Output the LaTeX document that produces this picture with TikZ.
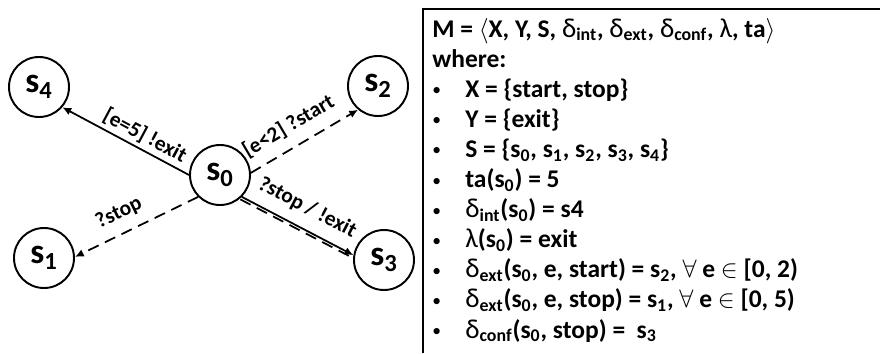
\documentclass[tikz,border=0pt]{standalone}
\usepackage{fontspec}
\setmainfont{Carlito}
\usetikzlibrary{arrows.meta, positioning}
\newcommand{\dlt}{{\mdseries\fontsize{15.5}{17}\selectfont δ}}
\newcommand{\lmb}{{\mdseries\fontsize{15.5}{17}\selectfont λ}}
\tikzset{
  statenode/.style={circle, draw, line width=1.1pt, minimum size=1.2cm, inner sep=0pt, font=\bfseries\fontsize{20}{22}\selectfont},
  evarrow/.style={-{Latex[length=5pt, width=4.5pt]}, line width=1pt},
  evdashed/.style={evarrow, dash pattern=on 6.5pt off 4pt},
  evlabel/.style={sloped, above=#1, font=\bfseries\fontsize{12.2}{13}\selectfont, inner sep=1pt},
  evlabel/.default=3pt,
  deftext/.style={anchor=base west, inner sep=0pt, font=\bfseries\fontsize{14.5}{17}\selectfont},
  bulnode/.style={anchor=base west, inner sep=0pt, font=\mdseries\fontsize{10}{12}\selectfont},
}

\begin{document}
\begin{tikzpicture}
  \useasboundingbox (0,0) rectangle (17.6,7.06);

  % states
  \node[statenode] (s0) at (4.40, 3.56) {s\textsubscript{0}};
  \node[statenode] (s4) at (0.78, 5.32) {s\textsubscript{4}};
  \node[statenode] (s2) at (7.56, 5.34) {s\textsubscript{2}};
  \node[statenode] (s1) at (0.88, 1.90) {s\textsubscript{1}};
  \node[statenode] (s3) at (7.68, 1.86) {s\textsubscript{3}};

  % transitions
  \draw[evarrow] (s0.180) -- node[evlabel=1pt, pos=0.4] {[e=5] !exit} (s4.-41);
  \draw[evdashed] (s0.4) -- node[evlabel=5pt, pos=0.45] {[e<2] ?start} (s2.-130);
  \draw[evdashed] (s0.225) -- node[evlabel=5pt, pos=0.57] {?stop} (s1.2);
  \draw[evarrow] (s0.-45) -- node[evlabel=5pt, pos=0.5] {?stop / !exit} (s3.171);
  \draw[line width=1pt, dash pattern=on 6.5pt off 4pt] ([shift={(-0.03,-0.05)}]s0.-45) -- ([shift={(-0.06,-0.03)}]s3.171);

  % definition panel
  \draw[line width=1.1pt] (17.6,6.88) -| (8.46,0);
  \node[deftext] (mdef) at (8.64,6.32) {M = $\langle$X, Y, S, \dlt\textsubscript{int}, \dlt\textsubscript{ext}, \dlt\textsubscript{conf}, \lmb, ta$\rangle$};
  \node[deftext] (where) at (8.64,5.718) {where:};
  \foreach \yb [count=\i] in {5.116,4.514,3.912,3.31,2.708,2.106,1.504,0.902,0.30}
    \node[bulnode] (bul\i) at (8.64,\yb+0.03) {\textbullet};
  \node[deftext] (xdef) at (9.30,5.116) {X = \{start, stop\}};
  \node[deftext] (ydef) at (9.30,4.514) {Y = \{exit\}};
  \node[deftext] (sdef) at (9.30,3.912) {S = \{s\textsubscript{0}, s\textsubscript{1}, s\textsubscript{2}, s\textsubscript{3}, s\textsubscript{4}\}};
  \node[deftext] (tadef) at (9.30,3.31) {ta(s\textsubscript{0}) = 5};
  \node[deftext] (intdef) at (9.30,2.708) {\dlt\textsubscript{int}(s\textsubscript{0}) = s4};
  \node[deftext] (lmbdef) at (9.30,2.106) {\lmb(s\textsubscript{0}) = exit};
  \node[deftext] (extdefa) at (9.30,1.504) {\dlt\textsubscript{ext}(s\textsubscript{0}, e, start) = s\textsubscript{2}, $\forall$ e $\in$ [0, 2)};
  \node[deftext] (extdefb) at (9.30,0.902) {\dlt\textsubscript{ext}(s\textsubscript{0}, e, stop) = s\textsubscript{1}, $\forall$ e $\in$ [0, 5)};
  \node[deftext] (confdef) at (9.30,0.30) {\dlt\textsubscript{conf}(s\textsubscript{0}, stop) = ~s\textsubscript{3}};
\end{tikzpicture}
\end{document}
